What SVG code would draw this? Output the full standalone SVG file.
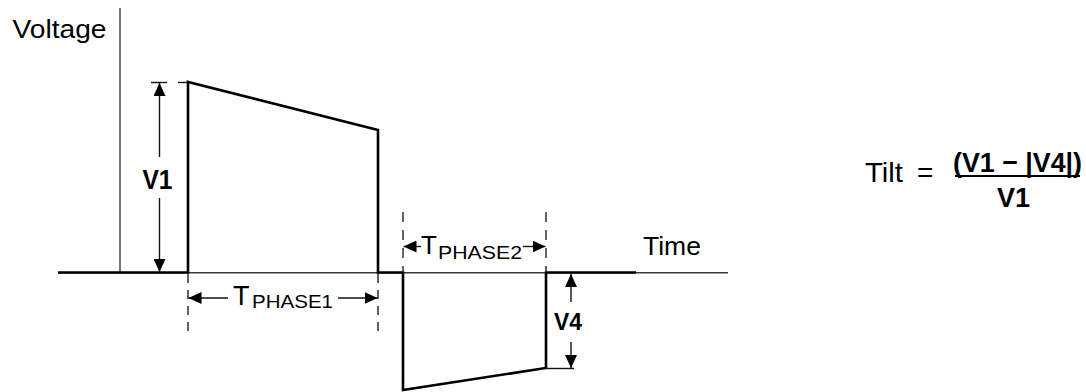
<svg xmlns="http://www.w3.org/2000/svg" width="1086" height="392" viewBox="0 0 1086 392">
  <style>
    .t { font-family: "Liberation Sans", Arial, sans-serif; fill: #000; }
    .b { font-weight: bold; }
    .axis { stroke: #3a3a3a; stroke-width: 1.4; fill: none; }
    .wave { stroke: #000; stroke-width: 2.6; fill: none; stroke-linejoin: miter; }
    .dim { stroke: #111; stroke-width: 1.4; fill: none; }
    .dash { stroke: #222; stroke-width: 1.4; fill: none; }
  </style>
  <defs>
    <marker id="ah" viewBox="0 0 13 12" refX="13" refY="6" markerWidth="13" markerHeight="12" markerUnits="userSpaceOnUse" orient="auto">
      <path d="M0,0 L13,6 L0,12 z" fill="#000"/>
    </marker>
  </defs>
  <rect width="1086" height="392" fill="#fff"/>

  <g id="axes">
    <line class="axis" x1="120" y1="8" x2="120" y2="272.5"/>
    <line class="axis" x1="58" y1="272.7" x2="728" y2="272.7"/>
    <text class="t" x="12.5" y="38" font-size="25" textLength="94" lengthAdjust="spacingAndGlyphs">Voltage</text>
    <text class="t" x="643" y="255" font-size="26.5">Time</text>
  </g>

  <g id="waveform">
    <polyline class="wave" points="58,272.5 188,272.5 188,82 378,130 378,272.5 403,272.5 403,390 546,368 546,272.5 636,272.5"/>
  </g>

  <g id="connectors">
    <!-- V1 dimension -->
    <line class="dim" x1="151" y1="82.5" x2="167" y2="82.5"/>
    <line class="dim" x1="178" y1="82.5" x2="188" y2="82.5"/>
    <line class="dim" x1="159.5" y1="157" x2="159.5" y2="83" marker-end="url(#ah)"/>
    <line class="dim" x1="159.5" y1="198" x2="159.5" y2="272" marker-end="url(#ah)"/>
    <!-- TPHASE1 dimension -->
    <line class="dash" x1="188" y1="274" x2="188" y2="336" stroke-dasharray="9,7"/>
    <line class="dash" x1="378" y1="274" x2="378" y2="336" stroke-dasharray="9,7"/>
    <line class="dim" x1="228" y1="298" x2="188.5" y2="298" marker-end="url(#ah)"/>
    <line class="dim" x1="338" y1="298" x2="377.5" y2="298" marker-end="url(#ah)"/>
    <!-- TPHASE2 dimension -->
    <line class="dash" x1="403" y1="212" x2="403" y2="272" stroke-dasharray="10,8"/>
    <line class="dash" x1="546" y1="212" x2="546" y2="272" stroke-dasharray="10,8"/>
    <line class="dim" x1="421" y1="246.5" x2="403.5" y2="246.5" marker-end="url(#ah)"/>
    <line class="dim" x1="523" y1="246.5" x2="545.5" y2="246.5" marker-end="url(#ah)"/>
    <!-- V4 dimension -->
    <line class="dim" x1="546" y1="368.5" x2="574" y2="368.5"/>
    <line class="dim" x1="571" y1="302" x2="571" y2="274" marker-end="url(#ah)"/>
    <line class="dim" x1="571" y1="342" x2="571" y2="368" marker-end="url(#ah)"/>
  </g>

  <g id="label-v1">
    <text class="t b" x="142.5" y="189" font-size="27" textLength="30" lengthAdjust="spacingAndGlyphs">V1</text>
  </g>
  <g id="label-tphase1">
    <text class="t" x="233" y="305" font-size="27">T</text>
    <text class="t" x="252" y="308" font-size="19" textLength="81" lengthAdjust="spacingAndGlyphs">PHASE1</text>
  </g>
  <g id="label-tphase2">
    <text class="t" x="421" y="254" font-size="26">T</text>
    <text class="t" x="438" y="259" font-size="19" textLength="84" lengthAdjust="spacingAndGlyphs">PHASE2</text>
  </g>
  <g id="label-v4">
    <text class="t b" x="554" y="330" font-size="23" textLength="28" lengthAdjust="spacingAndGlyphs">V4</text>
  </g>

  <g id="formula">
    <text class="t" x="865" y="182" font-size="28" textLength="38" lengthAdjust="spacingAndGlyphs">Tilt</text>
    <text class="t" x="917" y="182" font-size="28">=</text>
    <text class="t b" x="953" y="172" font-size="28" textLength="129" lengthAdjust="spacingAndGlyphs">(V1 − |V4|)</text>
    <line x1="955" y1="176" x2="1080" y2="176" stroke="#000" stroke-width="2"/>
    <text class="t b" x="997" y="207" font-size="27">V1</text>
  </g>
</svg>
